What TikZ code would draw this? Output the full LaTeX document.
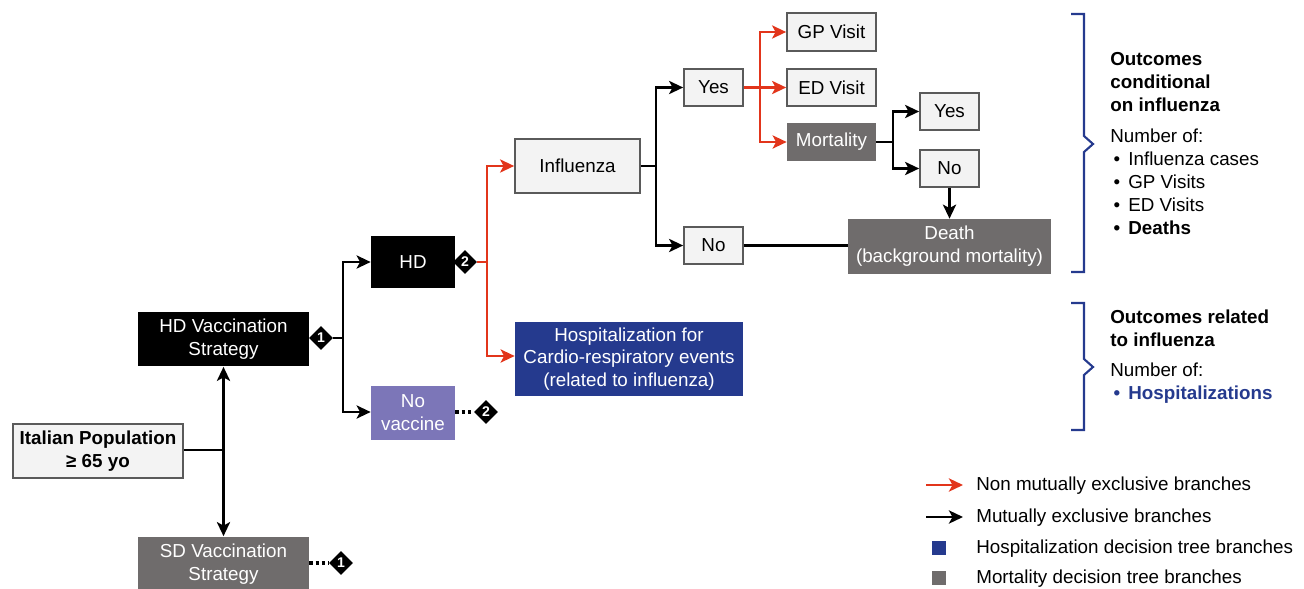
\documentclass[tikz,border=0pt]{standalone}
\usepackage{fontspec}
\setmainfont{Liberation Sans}
\usetikzlibrary{arrows.meta,shapes.geometric}

\definecolor{flured}{HTML}{E2351B}
\definecolor{hospblue}{HTML}{253A8E}
\definecolor{mortgray}{HTML}{6F6C6C}
\definecolor{novacc}{HTML}{7C76B8}
\definecolor{boxfill}{HTML}{F3F3F3}
\definecolor{boxline}{HTML}{5A5A5A}
\newcommand\figfont{\fontsize{10.7}{13}\selectfont}

\begin{document}
\begin{tikzpicture}[x=0.02cm,y=-0.02cm,font=\figfont,>={Stealth[length=8pt,width=7.5pt,inset=2pt]},
    plain box/.style={draw=boxline,fill=boxfill,line width=1pt,align=center,inner sep=1pt},
    dark box/.style={fill=black,text=white,align=center,inner sep=1pt},
    mort box/.style={fill=mortgray,text=white,align=center,inner sep=1pt},
    hosp box/.style={fill=hospblue,text=white,align=center,inner sep=1pt},
    chance/.style={diamond,fill=black,text=white,inner sep=0pt,minimum size=0.48cm,font=\fontsize{8}{9}\selectfont\bfseries},
    link/.style={line width=1.4pt},
    branch/.style={link,->},
    red branch/.style={branch,draw=flured},
    dots/.style={line width=1.8pt,dash pattern=on 1.8pt off 1.8pt},
    bracket/.style={draw=hospblue,line width=1.2pt},
    side text/.style={anchor=north west,align=left,inner sep=0pt}]
  \useasboundingbox (0,0) rectangle (1304,588);

  % strategies
  \node[plain box,minimum width=3.4cm,minimum height=1.08cm,font=\figfont\bfseries] (pop) at (98,451) {Italian Population\\≥ 65 yo};
  \node[dark box,minimum width=3.42cm,minimum height=1.1cm] (hdv) at (223.5,339) {HD Vaccination\\Strategy};
  \node[mort box,minimum width=3.42cm,minimum height=1.1cm] (sdv) at (223.5,564) {SD Vaccination\\Strategy};
  \node[chance] (d1a) at (321,338) {1};
  \node[chance] (d1b) at (341,563) {1};

  % vaccine arms
  \node[dark box,minimum width=1.68cm,minimum height=1.06cm] (hd) at (413,262) {HD};
  \node[fill=novacc,text=white,align=center,inner sep=1pt,minimum width=1.68cm,minimum height=1.08cm] (novac) at (413,413) {No\\vaccine};
  \node[chance] (d2a) at (465,262) {2};
  \node[chance] (d2b) at (486,412) {2};

  % influenza and hospitalization
  \node[plain box,minimum width=2.5cm,minimum height=1.08cm] (flu) at (577.5,166) {Influenza};
  \node[hosp box,minimum width=4.56cm,minimum height=1.48cm] (hosp) at (629,359) {Hospitalization for\\Cardio-respiratory events\\(related to influenza)};
  \node[plain box,minimum width=1.18cm,minimum height=0.74cm] (yes1) at (713.5,87.5) {Yes};
  \node[plain box,minimum width=1.18cm,minimum height=0.74cm] (no1) at (713.5,245.5) {No};

  % outcomes
  \node[plain box,minimum width=1.78cm,minimum height=0.76cm] (gp) at (831.5,32) {GP Visit};
  \node[plain box,minimum width=1.78cm,minimum height=0.74cm] (ed) at (831.5,87.5) {ED Visit};
  \node[mort box,minimum width=1.78cm,minimum height=0.76cm] (mort) at (831.5,142) {Mortality};
  \node[plain box,minimum width=1.18cm,minimum height=0.74cm] (yes2) at (949.5,111.5) {Yes};
  \node[plain box,minimum width=1.18cm,minimum height=0.74cm] (no2) at (949.5,168.5) {No};
  \node[mort box,minimum width=4.06cm,minimum height=1.1cm] (death) at (949.5,246.5) {Death\\(background mortality)};

  % junctions
  \coordinate (j0) at (223.5,450);
  \coordinate (j1) at (343,338);
  \coordinate (j2) at (487,262);
  \coordinate (j3) at (656,166);
  \coordinate (j4) at (760,87.5);
  \coordinate (j5) at (893,142);

  \draw[link] (pop.east |- j0) -- (j0);
  \draw[branch] (j0) -- (hdv);
  \draw[branch] (j0) -- (sdv);
  \draw[link] (d1a) -- (j1);
  \draw[branch] (j1) |- (hd);
  \draw[branch] (j1) |- (novac.west |- d2b);
  \draw[link,draw=flured] (d2a) -- (j2);
  \draw[red branch] (j2) |- (flu);
  \draw[red branch] (j2) |- (hosp.west |- 0,356);
  \draw[link] (flu) -- (j3);
  \draw[branch] (j3) |- (yes1);
  \draw[branch] (j3) |- (no1);
  \draw[link] (no1) -- (death.west |- no1);
  \draw[link,draw=flured] (yes1) -- (j4);
  \draw[red branch] (j4) |- (gp);
  \draw[red branch] (j4) -- (ed);
  \draw[red branch] (j4) |- (mort);
  \draw[link] (mort) -- (j5);
  \draw[branch] (j5) |- (yes2);
  \draw[branch] (j5) |- (no2);
  \draw[branch] (no2) -- (death);
  \draw[dots] (novac.east |- d2b) -- (d2b);
  \draw[dots] (sdv.east |- d1b) -- (d1b);

  % outcome brackets
  \draw[bracket] (1071,14) -- (1084,14) -- (1084,136) -- (1093,144) -- (1084,152) -- (1084,272) -- (1071,272);
  \draw[bracket] (1071,303) -- (1084,303) -- (1084,359) -- (1093,367) -- (1084,375) -- (1084,430) -- (1071,430);
  \node[side text,font=\figfont\bfseries] (cond) at (1110,52) {Outcomes\\conditional\\on influenza};
  \node[side text] (condlist) at (1110,129) {Number of:\\\makebox[0.36cm][l]{\,•}Influenza cases\\\makebox[0.36cm][l]{\,•}GP Visits\\\makebox[0.36cm][l]{\,•}ED Visits\\\makebox[0.36cm][l]{\,\textbf{•}}\textbf{Deaths}};
  \node[side text,font=\figfont\bfseries] (rel) at (1110,310) {Outcomes related\\to influenza};
  \node[side text] (rellist) at (1110,363) {Number of:\\\textcolor{hospblue}{\makebox[0.36cm][l]{\,\textbf{•}}\textbf{Hospitalizations}}};

  % legend
  \coordinate (l1s) at (926,485);
  \coordinate (l1e) at (963,485);
  \coordinate (l2s) at (926,517);
  \coordinate (l2e) at (963,517);
  \draw[red branch] (l1s) -- (l1e);
  \draw[branch] (l2s) -- (l2e);
  \node[fill=hospblue,minimum size=0.28cm,inner sep=0pt] (sq1) at (939,548) {};
  \node[fill=mortgray,minimum size=0.28cm,inner sep=0pt] (sq2) at (939,578) {};
  \node[anchor=west,inner sep=0pt] (lg1) at (976,486) {Non mutually exclusive branches};
  \node[anchor=west,inner sep=0pt] (lg2) at (976,518) {Mutually exclusive branches};
  \node[anchor=west,inner sep=0pt] (lg3) at (976,549) {Hospitalization decision tree branches};
  \node[anchor=west,inner sep=0pt] (lg4) at (976,579) {Mortality decision tree branches};
\end{tikzpicture}
\end{document}
